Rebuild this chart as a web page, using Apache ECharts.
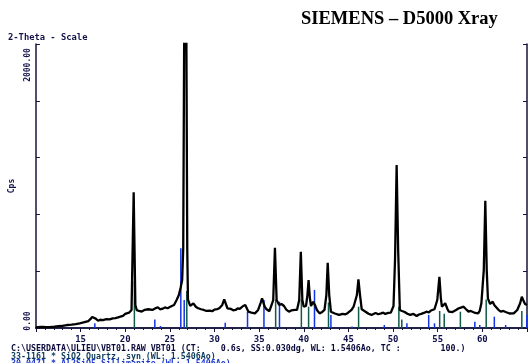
<!DOCTYPE html>
<html><head><meta charset="utf-8">
<script src="https://cdn.jsdelivr.net/npm/echarts@6/dist/echarts.min.js"></script>
<style>html,body{margin:0;padding:0;background:#fff}#c{width:532px;height:363px}</style>
</head><body><div id="c"></div>
<script>
// measured scan: 2-Theta (deg) and intensity (Cps)
var twoTheta = [
10.00,10.5,10.98,11.5,12.07,12.8,13.48,14.0,14.46,14.9,
15.33,15.87,16.1,16.30,16.52,16.7,16.96,17.2,17.50,17.9,
18.26,18.6,18.91,19.2,19.46,19.75,20.00,20.2,20.43,20.71,
20.95,21.14,21.30,21.55,21.85,22.2,22.58,22.8,23.04,23.35,
23.66,23.9,24.13,24.45,24.75,25.11,25.47,25.76,26.01,26.20,
26.38,26.50,26.63,26.73,26.83,26.95,27.03,27.28,27.45,27.64,
27.93,28.18,28.5,28.80,29.1,29.46,29.75,30.00,30.3,30.54,
30.87,31.09,31.25,31.45,31.65,31.85,32.1,32.36,32.6,32.83,
33.21,33.45,33.80,34.13,34.35,34.53,34.89,35.16,35.33,35.62,
35.8,35.98,36.15,36.34,36.58,36.77,36.96,37.25,37.50,37.79,
38.04,38.34,38.6,38.80,39.0,39.24,39.49,39.67,39.84,40.00,
40.25,40.41,40.54,40.68,40.81,41.05,41.25,41.47,41.77,42.07,
42.32,42.53,42.68,42.85,43.04,43.25,43.48,43.7,43.95,44.15,
44.35,44.5,44.67,44.9,45.11,45.35,45.58,45.95,46.12,46.30,
46.49,46.7,46.96,47.25,47.58,47.8,48.04,48.35,48.66,48.9,
49.13,49.45,49.75,50.05,50.22,50.40,50.57,50.76,51.0,51.30,
51.6,51.92,52.1,52.28,52.45,52.64,52.9,53.15,53.45,53.73,
54.0,54.24,54.45,54.64,54.95,55.19,55.35,55.47,55.65,55.84,
56.09,56.25,56.45,56.65,56.85,57.1,57.36,57.6,57.90,58.15,
58.45,58.7,58.91,59.2,59.53,59.7,59.89,60.16,60.33,60.49,
60.62,60.87,61.16,61.35,61.52,61.8,62.07,62.35,62.61,62.8,
63.04,63.25,63.51,63.7,63.91,64.24,64.42,64.57,64.78,65.00];
var cps = [
5,8,7,6,9,14,21,24,28,33,
39,49,62,77,84,66,51,58,56,63,
61,68,70,75,80,86,99,96,108,127,
955,162,125,120,116,128,132,122,127,138,
146,132,134,145,139,151,162,197,232,282,
338,560,2400,2800,2400,560,200,155,165,174,
148,139,132,127,120,122,118,130,133,139,
162,202,190,139,130,134,125,127,138,134,
155,162,115,109,112,103,127,176,209,150,
134,127,118,122,197,565,197,162,169,155,
130,115,124,120,128,127,197,537,197,150,
155,232,338,211,155,185,162,127,103,113,
127,232,460,232,115,108,102,96,92,104,
99,90,96,104,113,128,150,232,343,232,
132,120,113,100,92,100,106,97,103,108,
99,106,108,155,479,1148,549,127,120,113,
100,92,101,99,90,84,95,99,106,115,
110,123,128,132,197,361,211,150,162,174,
134,115,103,112,120,128,139,144,150,134,
115,120,113,106,103,120,174,408,896,408,
209,169,185,160,148,128,115,120,113,106,
102,110,103,112,127,176,220,197,169,162];

// reference pattern 33-1161 Quartz (stick positions / heights)
var quartzPos = [21.03,26.90,36.85,39.73,40.54,42.77,46.14,50.65,50.98,55.22,55.73,57.54,60.43,64.42];
var quartzH   = [330,260,200,200,150,180,150,150,60,120,100,115,200,120];

// reference pattern 30-0471 Sillimanite
var sillPos = [16.60,23.32,23.95,26.23,26.61,31.20,33.70,35.54,37.28,41.20,43.04,45.40,49.02,51.55,53.99,54.64,59.16,59.71,61.34,62.61,64.97];
var sillH   = [33,60,14,561,197,37,113,197,185,268,92,11,21,33,92,33,44,21,80,21,92];

var xTicks = [15,20,25,30,35,40,45,50,55,60];
var yLabels = {0:'0.00', 2000:'2000.00'};

var titleText = 'SIEMENS – D5000 Xray';
var scaleText = '2-Theta - Scale';
var infoLines = [
  'C:\\USERDATA\\ULIEU\\VBT01.RAW VBT01 (CT:    0.6s, SS:0.030dg, WL: 1.5406Ao, TC :        100.)',
  '33-1161 * SiO2 Quartz, syn (WL: 1.5406Ao)',
  '30-0471 * Al2SiO5 Sillimanite (WL: 1.5406Ao)'
];

var scan = twoTheta.map(function(x,i){return [x,cps[i]];});
var qData = quartzPos.map(function(x,i){return [x,quartzH[i]];});
var sData = sillPos.map(function(x,i){return [x,sillH[i]];});

function stick(color){
  return function(params, api){
    var x = api.value(0), h = api.value(1);
    var p0 = api.coord([x,0]), p1 = api.coord([x,h]);
    return {type:'line', shape:{x1:p0[0],y1:p0[1],x2:p1[0],y2:p1[1]},
      style:{stroke:color,lineWidth:1.5}};
  };
}

var mono = "'DejaVu Sans Mono', monospace";
var axisCol = '#14143c';
var chart = echarts.init(document.getElementById('c'), null, {renderer:'canvas'});
chart.setOption({
  animation:false,
  backgroundColor:'#ffffff',
  grid:{left:21,right:5,top:44,bottom:35},
  xAxis:[{
    type:'value',min:10,max:65,interval:5,position:'bottom',
    axisLine:{lineStyle:{color:axisCol,width:1.5}},
    axisTick:{show:true,inside:false,length:4,lineStyle:{color:axisCol}},
    minorTick:{show:true,splitNumber:5,length:2,lineStyle:{color:axisCol}},
    splitLine:{show:false},
    axisLabel:{margin:7,color:'#10104a',fontFamily:mono,fontWeight:'bold',fontSize:9,
      formatter:function(v){return xTicks.indexOf(v)>=0?String(v):'';}}
  },{
    type:'value',min:10,max:65,interval:5,position:'top',
    axisLine:{lineStyle:{color:axisCol,width:1.5}},
    axisTick:{show:true,inside:true,length:4,lineStyle:{color:axisCol}},
    splitLine:{show:false},axisLabel:{show:false}
  }],
  yAxis:[{
    type:'value',min:0,max:2000,interval:400,position:'left',
    name:'Cps',nameLocation:'middle',nameRotate:90,nameGap:4,
    nameTextStyle:{fontFamily:mono,fontWeight:'bold',fontSize:8,color:'#10104a'},
    axisLine:{show:true,lineStyle:{color:axisCol,width:1.5}},
    axisTick:{show:true,inside:true,length:4,lineStyle:{color:axisCol}},
    splitLine:{show:false},
    axisLabel:{rotate:90,margin:4,color:'#10104a',fontFamily:mono,fontWeight:'bold',fontSize:8,
      showMinLabel:true,showMaxLabel:true,
      formatter:function(v){ if(v===0) return '{lo|'+yLabels[0]+'}'; if(v===2000) return '{hi|'+yLabels[2000]+'}'; return ''; },
      rich:{lo:{padding:[0,0,0,14],fontFamily:mono,fontWeight:'bold',fontSize:8,color:'#10104a'},
            hi:{padding:[0,42,0,0],fontFamily:mono,fontWeight:'bold',fontSize:8,color:'#10104a'}}}
  },{
    type:'value',min:0,max:2000,interval:400,position:'right',
    axisLine:{show:true,lineStyle:{color:axisCol,width:1.5}},
    axisTick:{show:true,inside:true,length:4,lineStyle:{color:axisCol}},
    splitLine:{show:false},axisLabel:{show:false}
  }],
  series:[
    {type:'custom',name:'Sillimanite',data:sData,renderItem:stick('#1432e6'),encode:{x:0,y:1},z:1,clip:true},
    {type:'custom',name:'Quartz',data:qData,renderItem:stick('#0f5a48'),encode:{x:0,y:1},z:1,clip:true},
    {type:'line',name:'VBT01',data:scan,showSymbol:false,symbol:'none',clip:true,z:3,
      lineStyle:{color:'#000000',width:2.3},itemStyle:{color:'#000'}}
  ],
  graphic:[
    {type:'text',left:301,top:10,style:{text:titleText,font:"bold 18.5px 'Liberation Serif', serif",fill:'#000'}},
    {type:'text',left:8,top:33,style:{text:scaleText,font:"bold 8.8px "+mono,fill:'#14144a'}},
    {type:'text',left:11,top:345,style:{text:infoLines[0],font:"bold 8.3px "+mono,fill:'#0a0a3c'}},
    {type:'text',left:11,top:352.5,style:{text:infoLines[1],font:"bold 8.3px "+mono,fill:'#0d3a5a'}},
    {type:'text',left:11,top:360,style:{text:infoLines[2],font:"bold 8.3px "+mono,fill:'#1a3ad0'}}
  ]
});
</script>
</body></html>
